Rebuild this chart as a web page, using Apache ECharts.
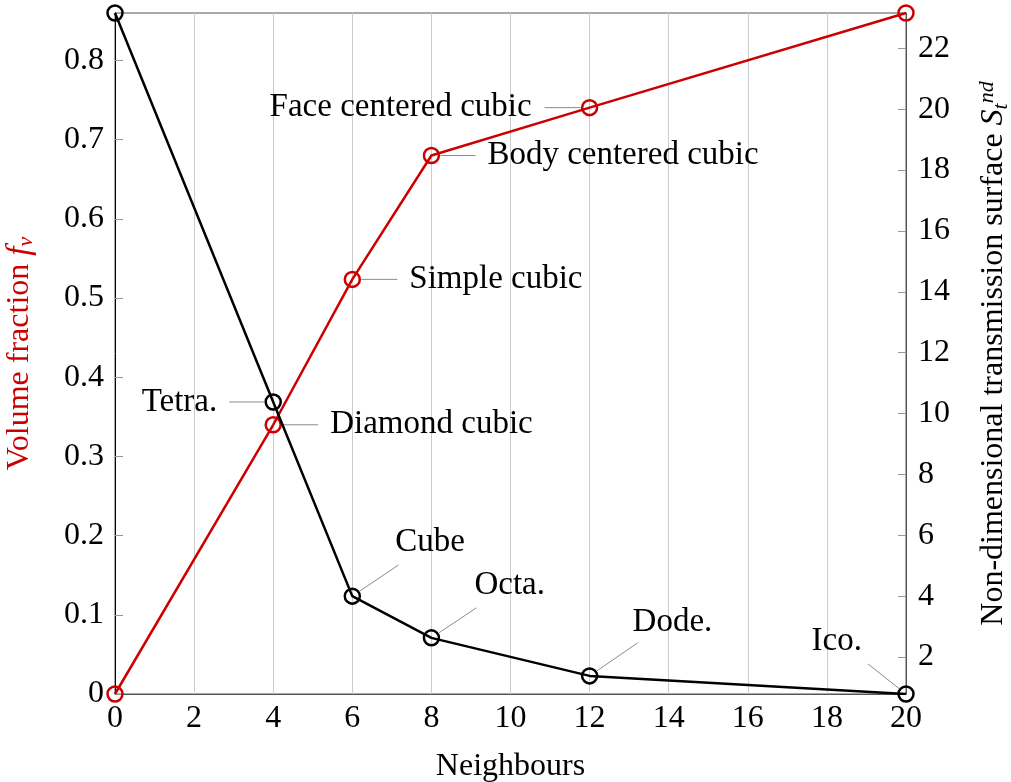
<!DOCTYPE html>
<html>
<head>
<meta charset="utf-8">
<script src="https://cdn.jsdelivr.net/npm/echarts@6/dist/echarts.min.js"></script>
<style>
html,body{margin:0;padding:0;background:#fff;}
#chart{width:1011px;height:782px;}
</style>
</head>
<body>
<div id="chart"></div>
<script>
// ---- data ----
const neighbours = [0, 4, 6, 8, 12, 20];
const volumeFraction = [0, 0.34, 0.5236, 0.68, 0.7405, 0.86];
const transmissionSurface = [23.16, 10.38, 4.0, 2.63, 1.38, 0.785];
const redLabels = ['', 'Diamond cubic', 'Simple cubic', 'Body centered cubic', 'Face centered cubic', ''];
const blackLabels = ['', 'Tetra.', 'Cube', 'Octa.', 'Dode.', 'Ico.'];
const xTicks = [0, 2, 4, 6, 8, 10, 12, 14, 16, 18, 20];
const leftTicks = [0, 0.1, 0.2, 0.3, 0.4, 0.5, 0.6, 0.7, 0.8];
const rightTicks = [2, 4, 6, 8, 10, 12, 14, 16, 18, 20, 22];

// ---- annotation layout (pixel offsets from the point) ----
const redLayout = [null,
  {lx: 45, ly: 0, tx: 57, ty: 0, align: 'left'},
  {lx: 45, ly: 0, tx: 57, ty: 0, align: 'left'},
  {lx: 44, ly: 0, tx: 56, ty: 0, align: 'left'},
  {lx: -45, ly: 0, tx: -58, ty: 0, align: 'right'},
  null];
const blackLayout = [null,
  {lx: -44, ly: 0, tx: -56, ty: 0, align: 'right'},
  {lx: 46, ly: -31, tx: 43, ty: -54, align: 'left'},
  {lx: 45, ly: -30, tx: 43, ty: -53, align: 'left'},
  {lx: 48, ly: -33, tx: 43, ty: -54, align: 'left'},
  {lx: -38, ly: -30, tx: -44, ty: -53, align: 'right'}];

const FONT = '"Liberation Serif", "Times New Roman", serif';
const RED = '#cc0000';

const chart = echarts.init(document.getElementById('chart'), null, {renderer: 'canvas'});

const option = {
  animation: false,
  backgroundColor: '#fff',
  grid: {left: 115, right: 105, top: 13, bottom: 88, show: true, borderColor: '#555', borderWidth: 1,
    containLabel: false, outerBoundsMode: 'none'},
  xAxis: {
    type: 'value', min: 0, max: 20, interval: 2,
    name: 'Neighbours', nameLocation: 'middle', nameGap: 57,
    nameTextStyle: {fontFamily: FONT, fontSize: 32, color: '#000'},
    axisLine: {show: true, lineStyle: {color: '#555', width: 1}},
    axisTick: {show: false},
    axisLabel: {fontFamily: FONT, fontSize: 32, color: '#000', margin: 9, customValues: xTicks},
    splitLine: {show: true, lineStyle: {color: '#cccccc', width: 1}}
  },
  yAxis: [{
    type: 'value', min: 0, max: 0.86, position: 'left',
    name: 'Volume fraction {i|f}{s|v}', nameLocation: 'middle', nameGap: 78, nameRotate: 90,
    nameTextStyle: {fontFamily: FONT, fontSize: 32, color: RED,
      rich: {
        i: {fontFamily: FONT, fontSize: 33, fontStyle: 'italic', color: RED},
        s: {fontFamily: FONT, fontSize: 22, fontStyle: 'italic', color: RED, verticalAlign: 'bottom', padding: [12, 0, 0, 0]}
      }},
    axisLine: {show: true, lineStyle: {color: '#000', width: 1}},
    axisTick: {show: true, inside: true, length: 8, lineStyle: {color: '#999'}, customValues: leftTicks},
    axisLabel: {fontFamily: FONT, fontSize: 32, color: '#000', margin: 11, customValues: leftTicks},
    splitLine: {show: false}
  }, {
    type: 'value', min: 0.785, max: 23.16, position: 'right',
    name: 'Non-dimensional transmission surface {i|S}{s|t}{p|nd}', nameLocation: 'middle', nameGap: 70, nameRotate: 90,
    nameTextStyle: {fontFamily: FONT, fontSize: 32, color: '#000',
      rich: {
        i: {fontFamily: FONT, fontSize: 32, fontStyle: 'italic', color: '#000'},
        s: {fontFamily: FONT, fontSize: 22, fontStyle: 'italic', color: '#000', verticalAlign: 'bottom', padding: [12, 0, 0, 0]},
        p: {fontFamily: FONT, fontSize: 22, fontStyle: 'italic', color: '#000', verticalAlign: 'top', padding: [0, 0, 14, 0]}
      }},
    axisLine: {show: true, lineStyle: {color: '#555', width: 1}},
    axisTick: {show: true, inside: true, length: 8, lineStyle: {color: '#999'}, customValues: rightTicks},
    axisLabel: {fontFamily: FONT, fontSize: 32, color: '#000', margin: 12, customValues: rightTicks},
    splitLine: {show: false}
  }],
  series: [{
    name: 'Volume fraction', type: 'line', yAxisIndex: 0,
    data: neighbours.map((x, i) => [x, volumeFraction[i]]),
    symbol: 'circle', symbolSize: 15,
    lineStyle: {color: RED, width: 2.5},
    itemStyle: {color: 'rgba(0,0,0,0)', borderColor: RED, borderWidth: 2.5},
    z: 3
  }, {
    name: 'Transmission surface', type: 'line', yAxisIndex: 1,
    data: neighbours.map((x, i) => [x, transmissionSurface[i]]),
    symbol: 'circle', symbolSize: 15,
    lineStyle: {color: '#000', width: 2.5},
    itemStyle: {color: 'rgba(0,0,0,0)', borderColor: '#000', borderWidth: 2.5},
    z: 4
  }]
};
chart.setOption(option);

function buildAnnotations(values, labels, layout, yAxisIndex) {
  const out = [];
  values.forEach((v, i) => {
    if (!labels[i] || !layout[i]) return;
    const p = chart.convertToPixel({xAxisIndex: 0, yAxisIndex: yAxisIndex}, [neighbours[i], v]);
    const L = layout[i];
    const len = Math.sqrt(L.lx * L.lx + L.ly * L.ly);
    const r = 9;
    out.push({
      type: 'line', z: 1,
      shape: {x1: p[0] + L.lx / len * r, y1: p[1] + L.ly / len * r, x2: p[0] + L.lx, y2: p[1] + L.ly},
      style: {stroke: '#8c8c8c', lineWidth: 1}
    });
    out.push({
      type: 'text', z: 5, x: p[0] + L.tx, y: p[1] + L.ty,
      style: {text: labels[i], font: '33px ' + FONT, fill: '#000', align: L.align, verticalAlign: 'middle'}
    });
  });
  return out;
}

const graphics = buildAnnotations(volumeFraction, redLabels, redLayout, 0)
  .concat(buildAnnotations(transmissionSurface, blackLabels, blackLayout, 1));
chart.setOption({graphic: graphics});
</script>
</body>
</html>
